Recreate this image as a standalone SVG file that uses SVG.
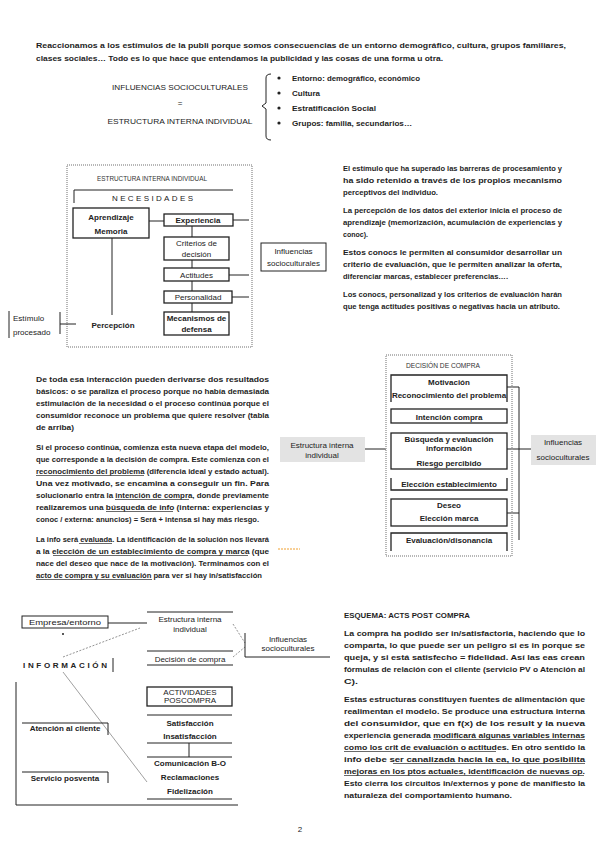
<svg xmlns="http://www.w3.org/2000/svg" width="599" height="848" viewBox="0 0 599 848">
<style>
.t{font-family:"Liberation Sans",Arial,sans-serif;font-size:8px;font-weight:bold;fill:#1e1e1e}
.r{font-family:"Liberation Sans",Arial,sans-serif;font-size:8px;fill:#222}
.b{font-family:"Liberation Sans",Arial,sans-serif;font-size:8px;font-weight:bold;fill:#222}
.s{font-family:"Liberation Sans",Arial,sans-serif;font-size:6.5px;fill:#333}
.m{text-anchor:middle}
.ln{stroke:#222;stroke-width:1;fill:none}
.bx{stroke:#222;stroke-width:1.3;fill:#fff}
.ul{stroke:#444;stroke-width:0.8}
.dot{stroke:#a0a0a0;stroke-width:1.5;stroke-dasharray:1 1;fill:none}
.gr{fill:#e3e3e3}
.dash{stroke:#777;stroke-width:0.8;stroke-dasharray:2 1.5;fill:none}
.thin{stroke:#888;stroke-width:0.8;fill:none}
</style>
<rect width="599" height="848" fill="#fff"/>

<g id="intro">
<text class="t" x="36" y="48" textLength="530" lengthAdjust="spacingAndGlyphs">Reaccionamos a los estímulos de la publi porque somos consecuencias de un entorno demográfico, cultura, grupos familiares,</text>
<text class="t" x="36" y="61" textLength="407" lengthAdjust="spacingAndGlyphs">clases sociales… Todo es lo que hace que entendamos la publicidad y las cosas de una forma u otra.</text>
</g>

<g id="equivalencia">
<text class="r m" x="180" y="90" textLength="136" lengthAdjust="spacingAndGlyphs">INFLUENCIAS SOCIOCULTURALES</text>
<text class="r m" x="180" y="106">=</text>
<text class="r m" x="180" y="124" textLength="145" lengthAdjust="spacingAndGlyphs">ESTRUCTURA INTERNA INDIVIDUAL</text>
<path class="ln" d="M271 74 Q266 74 266 78 L266 103 L262 106 L266 109 L266 136 Q266 140 271 140"/>
<circle cx="279" cy="78" r="1.6" fill="#222"/>
<circle cx="279" cy="93" r="1.6" fill="#222"/>
<circle cx="279" cy="108" r="1.6" fill="#222"/>
<circle cx="279" cy="123" r="1.6" fill="#222"/>
<text class="t" x="292" y="81" textLength="128" lengthAdjust="spacingAndGlyphs">Entorno: demográfico, económico</text>
<text class="t" x="292" y="96">Cultura</text>
<text class="t" x="292" y="111" textLength="84" lengthAdjust="spacingAndGlyphs">Estratificación Social</text>
<text class="t" x="292" y="126" textLength="120" lengthAdjust="spacingAndGlyphs">Grupos: familia, secundarios…</text>
</g>

<g id="estructura-interna">
<rect class="dot" x="67" y="165" width="185" height="182"/>
<text class="s m" x="152" y="181" textLength="110" lengthAdjust="spacingAndGlyphs">ESTRUCTURA INTERNA INDIVIDUAL</text>
<text class="r" x="112" y="201" textLength="81" lengthAdjust="spacing" font-size="8.5">NECESIDADES</text>
<path class="ln" d="M74 203 V190 H233"/>
</g>

<g id="aprendizaje">
<rect class="bx" x="73" y="208" width="76" height="30"/>
<text class="b m" x="111" y="220">Aprendizaje</text>
<text class="b m" x="111" y="234">Memoria</text>
</g>
<g id="experiencia">
<rect class="bx" x="164" y="214" width="69" height="12"/>
<text class="b m" x="198" y="223">Experiencia</text>
</g>
<g id="criterios">
<rect class="bx" x="164" y="237" width="65" height="23"/>
<text class="r m" x="196.5" y="246">Criterios de</text>
<text class="r m" x="196.5" y="257">decisión</text>
</g>
<g id="actitudes">
<rect class="bx" x="164" y="268" width="65" height="13"/>
<text class="r m" x="196.5" y="278">Actitudes</text>
</g>
<g id="personalidad">
<rect class="bx" x="164" y="291" width="68" height="12"/>
<text class="r m" x="198" y="300">Personalidad</text>
</g>
<g id="mecanismos">
<rect class="bx" x="164" y="312" width="65" height="23"/>
<text class="b m" x="196.5" y="321">Mecanismos de</text>
<text class="b m" x="196.5" y="332">defensa</text>
</g>
<g id="percepcion">
<text class="b m" x="113" y="328">Percepción</text>
</g>
<g id="estimulo">
<path class="ln" d="M9 311 V338"/>
<text class="r" x="13" y="321" font-size="7.5">Estímulo</text>
<text class="r" x="13" y="335" font-size="7.5">procesado</text>
</g>
<g id="influencias-1">
<rect class="ln" x="261" y="243" width="65" height="28"/>
<text class="r m" x="293.5" y="254">Influencias</text>
<text class="r m" x="293.5" y="266">socioculturales</text>
</g>

<g id="connectors">
<path class="ln" d="M149 221 H164"/>
<path class="ln" d="M192 226 V237 M192 260 V268 M192 281 V291 M192 303 V312"/>
<path class="ln" d="M233 220 H249 M229 275 H249 M232 297 H249"/>
<path class="ln" d="M112 238 V315"/>
<path class="ln" d="M60 312 V334 M60 324 H76"/>
<path class="ln" d="M365 449 H386"/>
<path class="ln" d="M507 387 H519 V540 M507 513 H519 M507 449 H531"/>
<path class="ln" d="M108 623 H147"/>
<path class="dash" d="M233 624 L245 643 M233 657 L245 647"/>
<path class="dash" d="M63 657 L140 628"/>
<path class="thin" d="M63 672 L147 782"/>
<path class="ln" d="M16 682 V805 H238"/>
<path class="ln" d="M189 743 V757"/>
<path d="M278 549 H300" stroke="#f0a030" stroke-width="1" stroke-dasharray="2 1"/>
</g>

<g id="texto-1">
<text class="t" x="343" y="171" textLength="219" lengthAdjust="spacingAndGlyphs">El estímulo que ha superado las barreras de procesamiento y</text>
<text class="t" x="343" y="183" textLength="219" lengthAdjust="spacingAndGlyphs">ha sido retenido a través de los propios mecanismo</text>
<text class="t" x="343" y="195" textLength="95" lengthAdjust="spacingAndGlyphs">perceptivos del individuo.</text>
<text class="t" x="343" y="213" textLength="219" lengthAdjust="spacingAndGlyphs">La percepción de los datos del exterior inicia el proceso de</text>
<text class="t" x="343" y="225" textLength="219" lengthAdjust="spacingAndGlyphs">aprendizaje (memorización, acumulación de experiencias y</text>
<text class="t" x="343" y="237" textLength="25" lengthAdjust="spacingAndGlyphs">conoc).</text>
<text class="t" x="343" y="255" textLength="219" lengthAdjust="spacingAndGlyphs">Estos conocs le permiten al consumidor desarrollar un</text>
<text class="t" x="343" y="267" textLength="219" lengthAdjust="spacingAndGlyphs">criterio de evaluación, que le permiten analizar la oferta,</text>
<text class="t" x="343" y="279" textLength="165" lengthAdjust="spacingAndGlyphs">diferenciar marcas, establecer preferencias….</text>
<text class="t" x="343" y="297" textLength="219" lengthAdjust="spacingAndGlyphs">Los conocs, personalizad y los criterios de evaluación harán</text>
<text class="t" x="343" y="309" textLength="217" lengthAdjust="spacingAndGlyphs">que tenga actitudes positivas o negativas hacia un atributo.</text>
</g>

<g id="texto-2">
<text class="t" x="36" y="382" textLength="233" lengthAdjust="spacingAndGlyphs">De toda esa interacción pueden derivarse dos resultados</text>
<text class="t" x="36" y="394" textLength="233" lengthAdjust="spacingAndGlyphs">básicos: o se paraliza el proceso porque no había demasiada</text>
<text class="t" x="36" y="406" textLength="233" lengthAdjust="spacingAndGlyphs">estimulación de la necesidad o el proceso continúa porque el</text>
<text class="t" x="36" y="418" textLength="233" lengthAdjust="spacingAndGlyphs">consumidor reconoce un problema que quiere resolver (tabla</text>
<text class="t" x="36" y="430" textLength="38" lengthAdjust="spacingAndGlyphs">de arriba)</text>
<text class="t" x="36" y="450" textLength="233" lengthAdjust="spacingAndGlyphs">Si el proceso continúa, comienza esta nueva etapa del modelo,</text>
<text class="t" x="36" y="462" textLength="233" lengthAdjust="spacingAndGlyphs">que corresponde a la decisión de compra. Este comienza con el</text>
<text class="t" x="36" y="474" textLength="233" lengthAdjust="spacingAndGlyphs">reconocimiento del problema (diferencia ideal y estado actual).</text>
<text class="t" x="36" y="486" textLength="233" lengthAdjust="spacingAndGlyphs">Una vez motivado, se encamina a conseguir un fin. Para</text>
<text class="t" x="36" y="498" textLength="233" lengthAdjust="spacingAndGlyphs">solucionarlo entra la intención de compra, donde previamente</text>
<text class="t" x="36" y="510" textLength="233" lengthAdjust="spacingAndGlyphs">realizaremos una búsqueda de info (interna: experiencias y</text>
<text class="t" x="36" y="522" textLength="223" lengthAdjust="spacingAndGlyphs">conoc / externa: anuncios) = Será + intensa si hay más riesgo.</text>
<text class="t" x="36" y="542" textLength="233" lengthAdjust="spacingAndGlyphs">La info será evaluada. La identificación de la solución nos llevará</text>
<text class="t" x="36" y="554" textLength="233" lengthAdjust="spacingAndGlyphs">a la elección de un establecimiento de compra y marca (que</text>
<text class="t" x="36" y="566" textLength="233" lengthAdjust="spacingAndGlyphs">nace del deseo que nace de la motivación). Terminamos con el</text>
<text class="t" x="36" y="578" textLength="226" lengthAdjust="spacingAndGlyphs">acto de compra y su evaluación para ver si hay in/satisfacción</text>
<path class="ul" d="M36 475.5 H144 M115 499.5 H189 M106 511.5 H173 M79 543.5 H112 M53 555.5 H248 M36 579.5 H152"/>
</g>

<g id="decision-compra">
<rect class="dot" x="386" y="355" width="126" height="201"/>
<text class="s m" x="443" y="368" textLength="74" lengthAdjust="spacingAndGlyphs">DECISIÓN DE COMPRA</text>
</g>
<g id="motivacion">
<path class="bx" d="M391 402 V375 H507 V402" fill="none"/>
<text class="b m" x="449" y="385">Motivación</text>
<text class="b m" x="449" y="398">Reconocimiento del problema</text>
</g>
<g id="intencion">
<rect class="bx" x="391" y="409" width="116" height="14"/>
<text class="b m" x="449" y="419.5">Intención compra</text>
</g>
<g id="busqueda">
<rect class="bx" x="391" y="433" width="116" height="36"/>
<text class="b m" x="449" y="442">Búsqueda y evaluación</text>
<text class="b m" x="449" y="451">información</text>
<text class="b m" x="449" y="466">Riesgo percibido</text>
</g>
<g id="eleccion-est">
<path class="bx" d="M391 478 V490 H507 V478" fill="none"/>
<text class="b m" x="449" y="487">Elección establecimiento</text>
</g>
<g id="deseo">
<rect class="bx" x="391" y="499" width="116" height="27"/>
<text class="b m" x="449" y="508">Deseo</text>
<text class="b m" x="449" y="521">Elección marca</text>
</g>
<g id="evaluacion">
<path class="bx" d="M391 551 V533 H507 V551" fill="none"/>
<text class="b m" x="449" y="543">Evaluación/disonancia</text>
</g>
<g id="estructura-gris">
<rect class="gr" x="280" y="437" width="85" height="25"/>
<text class="r m" x="322" y="448" fill="#444">Estructura interna</text>
<text class="r m" x="322" y="458" fill="#444">individual</text>
</g>
<g id="influencias-gris">
<rect class="gr" x="531" y="435" width="65" height="30"/>
<text class="r m" x="563" y="445" fill="#555">Influencias</text>
<text class="r m" x="563" y="460" fill="#555">socioculturales</text>
</g>

<g id="empresa">
<rect class="ln" x="22" y="616" width="86" height="12"/>
<text class="r m" x="65" y="625" fill="#444" textLength="72" lengthAdjust="spacingAndGlyphs">Empresa/entorno</text>
</g>
<g id="estructura-3">
<path class="ln" d="M147 612 H233"/>
<text class="r m" x="190" y="622" font-size="9">Estructura interna</text>
<text class="r m" x="190" y="632" font-size="9">individual</text>
</g>
<g id="decision-3">
<path class="ln" d="M147 651 H233 M147 665 H233"/>
<text class="r m" x="190" y="662" fill="#444">Decisión de compra</text>
</g>
<g id="influencias-3">
<path class="ln" d="M245 633 V657 H330"/>
<text class="r m" x="288" y="642" font-size="9">Influencias</text>
<text class="r m" x="288" y="651" font-size="9">socioculturales</text>
</g>
<g id="informacion">
<circle cx="63" cy="634" r="1" fill="#222"/>
<text class="b" x="23" y="668" textLength="84" lengthAdjust="spacing" font-size="9">INFORMACIÓN</text>
<path class="ln" d="M113 658 V672"/>
</g>
<g id="atencion">
<path class="ln" d="M22 723 H108 V735"/>
<text class="b m" x="65" y="731">Atención al cliente</text>
</g>
<g id="posventa">
<path class="ln" d="M22 772 H108 V783"/>
<text class="b m" x="65" y="781">Servicio posventa</text>
</g>
<g id="actividades">
<rect class="bx" x="147" y="687" width="85" height="19"/>
<text class="r m" x="190" y="695" font-size="7.5">ACTIVIDADES</text>
<text class="r m" x="190" y="703" font-size="7.5">POSCOMPRA</text>
</g>
<g id="satisfaccion">
<path class="ln" d="M147 715 H232 M147 743 H232"/>
<text class="b m" x="190" y="726">Satisfacción</text>
<text class="b m" x="190" y="739">Insatisfacción</text>
</g>
<g id="comunicacion">
<path class="ln" d="M147 757 H232 M147 799 H232"/>
<text class="b m" x="190" y="766">Comunicación B-O</text>
<text class="b m" x="190" y="780">Reclamaciones</text>
<text class="b m" x="190" y="794">Fidelización</text>
</g>

<g id="texto-3">
<text class="t" x="344" y="618" textLength="126" lengthAdjust="spacingAndGlyphs">ESQUEMA: ACTS POST COMPRA</text>
<text class="t" x="344" y="636" textLength="241" lengthAdjust="spacingAndGlyphs">La compra ha podido ser in/satisfactoria, haciendo que lo</text>
<text class="t" x="344" y="648" textLength="241" lengthAdjust="spacingAndGlyphs">comparta, lo que puede ser un peligro si es in porque se</text>
<text class="t" x="344" y="660" textLength="241" lengthAdjust="spacingAndGlyphs">queja, y si está satisfecho = fidelidad. Así las eas crean</text>
<text class="t" x="344" y="672" textLength="241" lengthAdjust="spacingAndGlyphs">fórmulas de relación con el cliente (servicio PV o Atención al</text>
<text class="t" x="344" y="684" textLength="14" lengthAdjust="spacingAndGlyphs">C).</text>
<text class="t" x="344" y="702" textLength="241" lengthAdjust="spacingAndGlyphs">Estas estructuras constituyen fuentes de alimentación que</text>
<text class="t" x="344" y="714" textLength="241" lengthAdjust="spacingAndGlyphs">realimentan el modelo. Se produce una estructura interna</text>
<text class="t" x="344" y="726" textLength="241" lengthAdjust="spacingAndGlyphs">del consumidor, que en f(x) de los result y la nueva</text>
<text class="t" x="344" y="738" textLength="241" lengthAdjust="spacingAndGlyphs">experiencia generada modificará algunas variables internas</text>
<text class="t" x="344" y="750" textLength="241" lengthAdjust="spacingAndGlyphs">como los crit de evaluación o actitudes. En otro sentido la</text>
<text class="t" x="344" y="762" textLength="241" lengthAdjust="spacingAndGlyphs">info debe ser canalizada hacia la ea, lo que posibilita</text>
<text class="t" x="344" y="774" textLength="241" lengthAdjust="spacingAndGlyphs">mejoras en los ptos actuales, identificación de nuevas op.</text>
<text class="t" x="344" y="786" textLength="241" lengthAdjust="spacingAndGlyphs">Esto cierra los circuitos in/externos y pone de manifiesto la</text>
<text class="t" x="344" y="798" textLength="168" lengthAdjust="spacingAndGlyphs">naturaleza del comportamiento humano.</text>
<path class="ul" d="M433 739.5 H585 M344 751.5 H496 M393 763.5 H585 M344 775.5 H584"/>
</g>

<g id="pagina">
<text class="r m" x="300" y="832" font-size="9">2</text>
</g>
</svg>
